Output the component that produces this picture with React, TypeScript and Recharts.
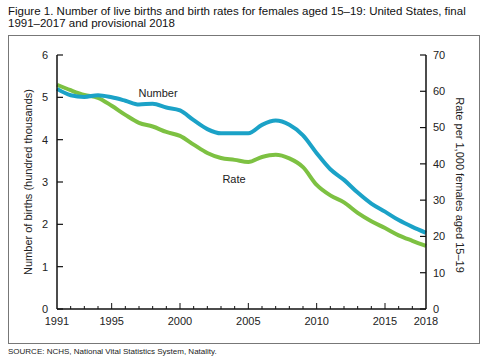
import React from 'react';
import { LineChart, Line, XAxis, YAxis } from 'recharts';

// values (NCHS teen births)
const years = [
  1991, 1992, 1993, 1994, 1995, 1996, 1997, 1998, 1999, 2000, 2001, 2002, 2003, 2004,
  2005, 2006, 2007, 2008, 2009, 2010, 2011, 2012, 2013, 2014, 2015, 2016, 2017, 2018,
];
const births = [
  5.2, 5.05, 5.01, 5.05, 5.0, 4.92, 4.83, 4.85, 4.76, 4.69, 4.46, 4.25, 4.15, 4.15,
  4.15, 4.35, 4.45, 4.35, 4.1, 3.68, 3.3, 3.05, 2.75, 2.49, 2.3, 2.1, 1.94, 1.8,
];
const rates = [
  61.8, 60.3, 59.0, 58.2, 56.0, 53.5, 51.3, 50.3, 48.8, 47.7, 45.3, 43.0, 41.6, 41.1,
  40.5, 41.9, 42.5, 41.5, 39.1, 34.2, 31.3, 29.4, 26.5, 24.2, 22.3, 20.3, 18.8, 17.4,
];
const yearLabels = [1991, 1995, 2000, 2005, 2010, 2015, 2018];
const leftTicks = [0, 1, 2, 3, 4, 5, 6];
const rightTicks = [0, 10, 20, 30, 40, 50, 60, 70];

const data = years.map((year, i) => ({ year, births: births[i], rate: rates[i] }));

const FONT = '"Liberation Sans", Arial, sans-serif';
const BLUE = '#1ba2c7';
const GREEN = '#7dc142';

// year ticks: short every year, longer every 5 years, labels only on some
const YearTick = (props: any) => {
  const { x, y, payload } = props;
  const year = payload.value;
  const axisY = y - 8;
  const len = year % 5 === 0 ? 6 : 3;
  return (
    <g>
      {year !== 1991 && year !== 2018 && (
        <line x1={x} x2={x} y1={axisY} y2={axisY - len} stroke="#111" strokeWidth={1} />
      )}
      {yearLabels.includes(year) && (
        <text x={x} y={y} dy="0.71em" textAnchor="middle" fontSize={11} fill="#222" fontFamily={FONT}>
          {year}
        </text>
      )}
    </g>
  );
};

export default function App() {
  return (
    <div style={{ position: 'absolute', left: 0, top: 0, width: 488, height: 363, background: '#fff', fontFamily: FONT }}>
      <div style={{ position: 'absolute', left: 8, top: 5, width: 470, fontSize: 11.5, lineHeight: '12px', color: '#111' }}>
        Figure 1. Number of live births and birth rates for females aged 15–19: United States, final 1991–2017 and provisional 2018
      </div>
      <div style={{ position: 'absolute', left: 8, top: 35, width: 470, height: 307, border: '1px solid #777' }} />
      <div style={{ position: 'absolute', left: 0, top: 0 }}>
        <LineChart width={488} height={363} data={data} margin={{ top: 55, right: 0, bottom: 24, left: 0 }}>
          <XAxis
            dataKey="year"
            type="number"
            domain={[1991, 2018]}
            ticks={years}
            interval={0}
            height={30}
            tickSize={0}
            tickMargin={8}
            tickLine={false}
            tick={<YearTick />}
            axisLine={{ stroke: '#111', strokeWidth: 1.5 }}
          />
          <YAxis
            yAxisId="left"
            domain={[0, 6]}
            ticks={leftTicks}
            width={57}
            tickSize={-6}
            tickMargin={15}
            axisLine={{ stroke: '#111', strokeWidth: 1.5 }}
            tickLine={{ stroke: '#111', strokeWidth: 1.2 }}
            tick={{ fontSize: 11, fill: '#222', fontFamily: FONT }}
          />
          <YAxis
            yAxisId="right"
            orientation="right"
            domain={[0, 70]}
            ticks={rightTicks}
            width={62}
            tickSize={-6}
            tickMargin={13}
            axisLine={{ stroke: '#111', strokeWidth: 1.5 }}
            tickLine={{ stroke: '#111', strokeWidth: 1.2 }}
            tick={{ fontSize: 11, fill: '#222', fontFamily: FONT }}
          />
          <Line yAxisId="right" type="monotone" dataKey="rate" stroke={GREEN} strokeWidth={4} dot={false} isAnimationActive={false} />
          <Line yAxisId="left" type="monotone" dataKey="births" stroke={BLUE} strokeWidth={4} dot={false} isAnimationActive={false} />
        </LineChart>
      </div>
      <svg width={488} height={363} style={{ position: 'absolute', left: 0, top: 0, pointerEvents: 'none' }}>
        <text x={28} y={182} transform="rotate(-90 28 182)" textAnchor="middle" dominantBaseline="central" fontSize={11} fill="#222" fontFamily={FONT}>
          Number of births (hundred thousands)
        </text>
        <text x={460} y={185} transform="rotate(90 460 185)" textAnchor="middle" dominantBaseline="central" fontSize={11} fill="#222" fontFamily={FONT}>
          Rate per 1,000 females aged 15–19
        </text>
        <text x={158} y={93} textAnchor="middle" dominantBaseline="central" fontSize={11} fill="#222" fontFamily={FONT}>
          Number
        </text>
        <text x={234} y={179} textAnchor="middle" dominantBaseline="central" fontSize={11} fill="#222" fontFamily={FONT}>
          Rate
        </text>
      </svg>
      <div style={{ position: 'absolute', left: 8, top: 347, fontSize: 8, color: '#222' }}>
        SOURCE: NCHS, National Vital Statistics System, Natality.
      </div>
    </div>
  );
}
